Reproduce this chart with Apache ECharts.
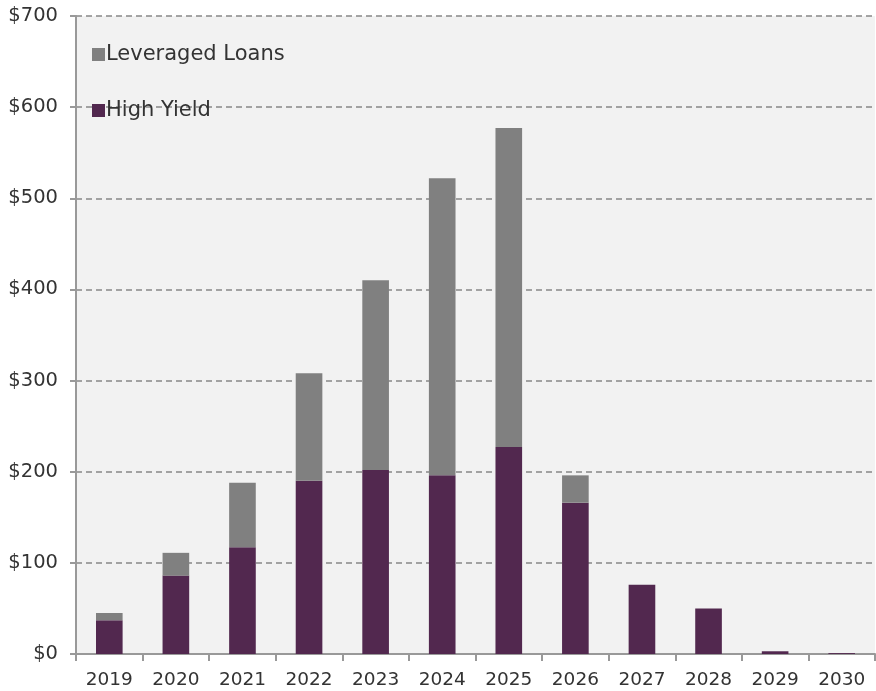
<!DOCTYPE html>
<html><head><meta charset="utf-8">
<script src="https://cdn.jsdelivr.net/npm/echarts@6/dist/echarts.min.js"></script>
<style>html,body{margin:0;padding:0;background:#fff}#c{width:876px;height:691px}</style>
</head><body><div id="c"></div>
<script>
const categories = ['2019','2020','2021','2022','2023','2024','2025','2026','2027','2028','2029','2030'];
const highYield = [37, 86, 117, 190, 202, 196, 227, 166, 76, 50, 3, 1];
const leveragedLoans = [8, 25, 71, 118, 208, 326, 350, 30, 0, 0, 0, 0];
const yTicks = [0, 100, 200, 300, 400, 500, 600, 700];

const chart = echarts.init(document.getElementById('c'));
const font = 'DejaVu Sans, Verdana, sans-serif';
chart.setOption({
  animation: false,
  textStyle: { fontFamily: font },
  grid: { left: 76, right: 1, top: 16, bottom: 37, show: true, backgroundColor: '#f2f2f2', borderWidth: 0 },
  legend: {
    orient: 'vertical', left: 87, top: 39, itemGap: 35,
    itemWidth: 13, itemHeight: 13, icon: 'rect',
    data: ['Leveraged Loans', 'High Yield'],
    textStyle: { fontFamily: font, fontSize: 21, color: '#333', padding: [0, 0, 0, -4] }
  },
  xAxis: {
    type: 'category', data: categories,
    axisLine: { lineStyle: { color: '#999', width: 2 } },
    axisTick: { show: true, alignWithLabel: false, length: 7, lineStyle: { color: '#999', width: 2 } },
    axisLabel: { color: '#333', fontSize: 18.5, fontFamily: font, margin: 17 }
  },
  yAxis: {
    type: 'value', min: yTicks[0], max: yTicks[yTicks.length - 1], interval: 100,
    axisLine: { show: true, lineStyle: { color: '#999', width: 2 } },
    axisTick: { show: true, length: 6, lineStyle: { color: '#999', width: 2 } },
    splitLine: { show: true, lineStyle: { color: '#888', type: [6, 4], width: 1.5 } },
    axisLabel: { color: '#333', fontSize: 19.5, fontFamily: font, margin: 18, formatter: v => '$' + v }
  },
  series: [
    { name: 'High Yield', type: 'bar', stack: 'a', data: highYield, barWidth: '40%', itemStyle: { color: '#52284f' } },
    { name: 'Leveraged Loans', type: 'bar', stack: 'a', data: leveragedLoans, barWidth: '40%', itemStyle: { color: '#808080' } }
  ]
});
</script></body></html>
